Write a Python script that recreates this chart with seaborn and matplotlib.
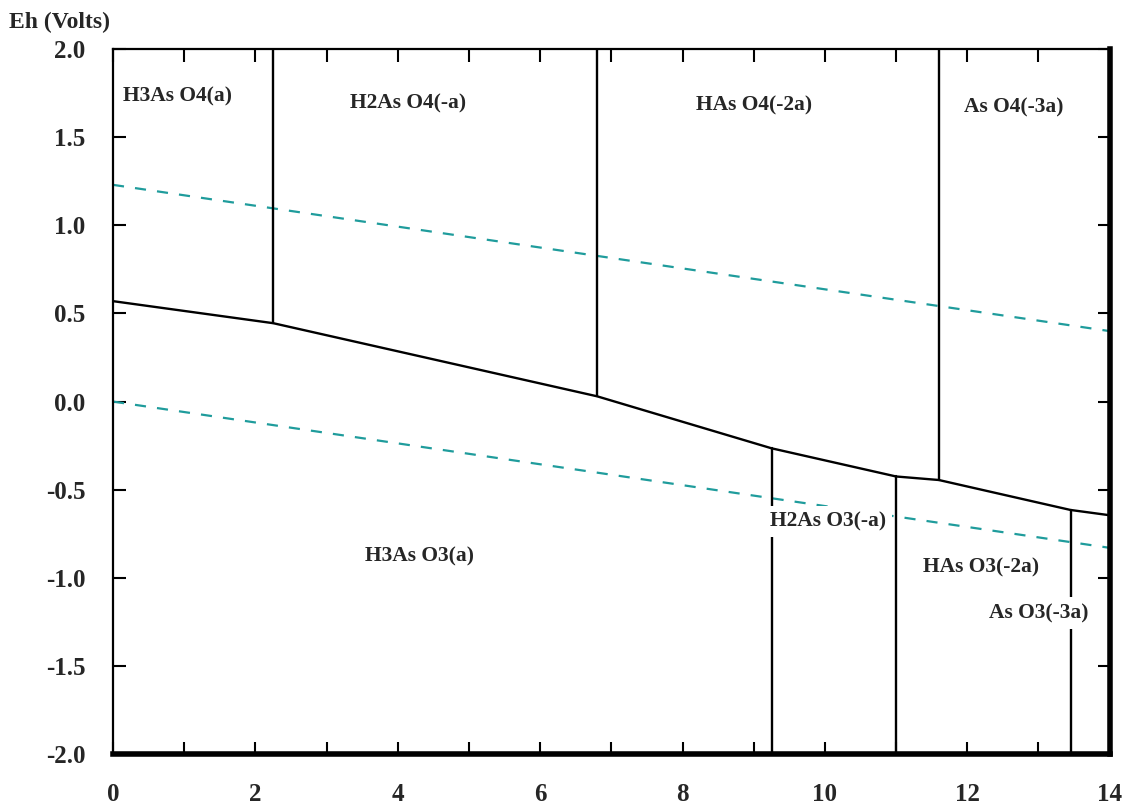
import numpy as np
import pandas as pd
import matplotlib
matplotlib.use("Agg")
import matplotlib.pyplot as plt
import seaborn as sns

# Water stability limits (Eh vs pH)
water_ph = [0, 14]
water_upper_eh = [1.23, 0.40]
water_lower_eh = [0.0, -0.83]

# As(V) / As(III) redox boundary
redox_ph = [0, 2.25, 6.8, 9.25, 11.0, 11.6, 13.45, 14]
redox_eh = [0.57, 0.445, 0.03, -0.265, -0.425, -0.445, -0.615, -0.645]

# Acid-base boundaries of arsenate species (upward to top of diagram)
asv_ph = [2.25, 6.8, 11.6]
asv_eh_low = [0.445, 0.03, -0.445]

# Acid-base boundaries of arsenite species (downward to bottom of diagram)
asiii_ph = [9.25, 11.0, 13.45]
asiii_eh_high = [-0.265, -0.425, -0.615]

# Species field labels
species = ["H3As O4(a)", "H2As O4(-a)", "HAs O4(-2a)", "As O4(-3a)",
           "H3As O3(a)", "H2As O3(-a)", "HAs O3(-2a)", "As O3(-3a)"]
species_ph = [0.9, 4.15, 9.0, 12.65, 4.3, 10.05, 12.2, 13.0]
species_eh = [1.73, 1.69, 1.68, 1.67, -0.88, -0.68, -0.94, -1.20]

x_ticks = [0, 2, 4, 6, 8, 10, 12, 14]
y_ticks = [-2.0, -1.5, -1.0, -0.5, 0.0, 0.5, 1.0, 1.5, 2.0]

sns.set_theme(style="white")
plt.rcParams["font.family"] = ["Liberation Serif", "DejaVu Serif"]
plt.rcParams["font.weight"] = "bold"

fig = plt.figure(figsize=(11.3, 8.06), dpi=100)
ax = fig.add_axes([0.1, 0.0645, 0.882, 0.8745])

teal = "#1f9c9c"
sns.lineplot(data=pd.DataFrame({"pH": water_ph, "Eh": water_upper_eh}), x="pH", y="Eh",
             ax=ax, color=teal, lw=1.6, linestyle=(0, (5, 5)), zorder=2)
sns.lineplot(data=pd.DataFrame({"pH": water_ph, "Eh": water_lower_eh}), x="pH", y="Eh",
             ax=ax, color=teal, lw=1.6, linestyle=(0, (5, 5)), zorder=2)
sns.lineplot(data=pd.DataFrame({"pH": redox_ph, "Eh": redox_eh}), x="pH", y="Eh",
             ax=ax, color="black", lw=1.7, zorder=3, sort=False)

for p, e in zip(asv_ph, asv_eh_low):
    ax.plot([p, p], [e, 2.0], color="black", lw=1.7, zorder=3)
for p, e in zip(asiii_ph, asiii_eh_high):
    ax.plot([p, p], [e, -2.0], color="black", lw=1.7, zorder=3)

for name, p, e in zip(species, species_ph, species_eh):
    ax.text(p, e, name, ha="center", va="center", fontsize=15.5, fontweight="bold",
            zorder=5, bbox=dict(facecolor="white", edgecolor="none", pad=4))

ax.set_xlim(0, 14)
ax.set_ylim(-2.0, 2.0)
ax.set_xticks(x_ticks)
ax.set_xticklabels([str(t) for t in x_ticks])
ax.set_xticks(np.arange(0, 15, 1), minor=True)
ax.set_yticks(y_ticks)
ax.set_yticklabels([f"{t:.1f}" for t in y_ticks])
ax.tick_params(axis="both", which="both", direction="in", top=True, right=True,
               bottom=True, left=True, color="black")
ax.tick_params(axis="both", which="major", length=9, width=1.5, labelsize=18)
ax.tick_params(axis="x", which="minor", length=9, width=1.5)
ax.tick_params(axis="x", which="major", pad=21)
ax.tick_params(axis="y", which="major", pad=20)
for lab in ax.get_xticklabels() + ax.get_yticklabels():
    lab.set_fontweight("bold")

ax.set_xlabel("")
ax.set_ylabel("")
for side in ["left", "top"]:
    ax.spines[side].set_linewidth(1.6)
    ax.spines[side].set_color("black")
for side in ["right", "bottom"]:
    ax.spines[side].set_linewidth(4)
    ax.spines[side].set_color("black")

fig.text(0.008, 0.972, "Eh (Volts)", fontsize=17, fontweight="bold", ha="left", va="center")

fig.savefig("out.png", dpi=100, facecolor="white")
